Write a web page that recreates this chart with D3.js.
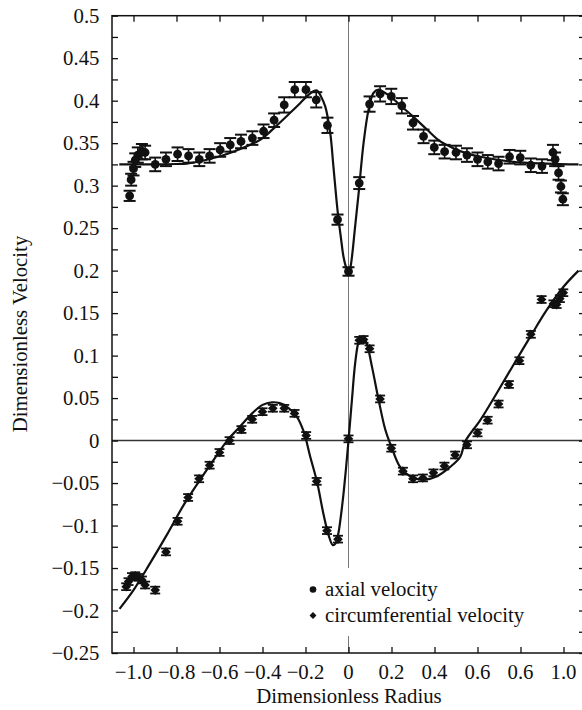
<!DOCTYPE html>
<html>
<head>
<meta charset="utf-8">
<script src="https://cdn.jsdelivr.net/npm/d3@7"></script>
</head>
<body style="margin:0;padding:0;background:#fff">
<svg id="chart" width="582" height="710" style="display:block"></svg>
<script>
// ---- data ----
const axialX = [-1.018,-1.011,-1.0,-0.992,-0.98,-0.961,-0.946,-0.899,-0.849,-0.795,-0.744,-0.694,-0.646,-0.597,-0.55,-0.5,-0.447,-0.395,-0.346,-0.299,-0.25,-0.198,-0.15,-0.098,-0.051,0.0,0.05,0.098,0.147,0.199,0.248,0.3,0.349,0.399,0.447,0.5,0.551,0.6,0.648,0.698,0.749,0.799,0.848,0.9,0.951,0.961,0.977,0.988,0.997];
const axialY = [0.288,0.307,0.320,0.330,0.336,0.340,0.339,0.325,0.331,0.337,0.335,0.331,0.335,0.342,0.348,0.352,0.356,0.364,0.377,0.395,0.413,0.413,0.401,0.371,0.260,0.199,0.303,0.396,0.408,0.405,0.394,0.374,0.358,0.345,0.340,0.339,0.336,0.331,0.328,0.326,0.334,0.333,0.324,0.323,0.339,0.331,0.315,0.299,0.284];
const axialErr = [0.006,0.007,0.008,0.008,0.009,0.009,0.008,0.008,0.008,0.008,0.008,0.008,0.008,0.008,0.008,0.008,0.008,0.008,0.008,0.009,0.009,0.009,0.009,0.009,0.006,0.005,0.007,0.009,0.009,0.009,0.009,0.008,0.008,0.008,0.008,0.008,0.008,0.008,0.008,0.008,0.008,0.008,0.008,0.008,0.009,0.008,0.008,0.007,0.007];

const circX = [-1.034,-1.023,-1.007,-0.992,-0.977,-0.961,-0.946,-0.899,-0.849,-0.795,-0.746,-0.695,-0.646,-0.6,-0.553,-0.498,-0.448,-0.4,-0.352,-0.299,-0.251,-0.197,-0.148,-0.1,-0.049,0.0,0.05,0.07,0.098,0.147,0.199,0.253,0.3,0.346,0.395,0.446,0.496,0.551,0.6,0.647,0.698,0.746,0.795,0.848,0.898,0.953,0.968,0.983,0.999];
const circY = [-0.172,-0.166,-0.160,-0.159,-0.161,-0.164,-0.170,-0.176,-0.131,-0.095,-0.067,-0.045,-0.029,-0.014,0.000,0.013,0.025,0.034,0.038,0.038,0.032,0.006,-0.048,-0.106,-0.116,0.002,0.118,0.119,0.108,0.049,-0.009,-0.036,-0.045,-0.044,-0.038,-0.030,-0.017,-0.005,0.009,0.024,0.043,0.066,0.094,0.125,0.166,0.161,0.160,0.167,0.174];
const circErr = [0.004,0.004,0.004,0.004,0.004,0.004,0.004,0.004,0.004,0.004,0.004,0.004,0.004,0.004,0.004,0.004,0.004,0.004,0.004,0.004,0.004,0.004,0.004,0.004,0.004,0.004,0.004,0.004,0.004,0.004,0.004,0.004,0.004,0.004,0.004,0.004,0.004,0.004,0.004,0.004,0.004,0.004,0.004,0.004,0.004,0.004,0.004,0.004,0.004];

const axialFitX = [-1.066,-0.9,-0.8,-0.752,-0.65,-0.535,-0.411,-0.333,-0.27,-0.225,-0.19,-0.163,-0.147,-0.128,-0.108,-0.085,-0.07,-0.051,-0.035,-0.023,-0.01,0.0,0.008,0.016,0.03,0.047,0.07,0.093,0.116,0.14,0.165,0.194,0.248,0.302,0.365,0.427,0.488,0.55,0.613,0.767,0.923,1.07];
const axialFitY = [0.325,0.325,0.3255,0.326,0.331,0.340,0.354,0.371,0.386,0.397,0.406,0.411,0.412,0.405,0.393,0.362,0.322,0.271,0.238,0.216,0.203,0.198,0.203,0.216,0.250,0.291,0.350,0.389,0.409,0.413,0.410,0.405,0.393,0.381,0.366,0.352,0.344,0.338,0.334,0.328,0.326,0.325];

const circFitX = [-1.065,-1.0,-0.922,-0.845,-0.767,-0.69,-0.612,-0.564,-0.51,-0.448,-0.4,-0.356,-0.32,-0.287,-0.24,-0.209,-0.178,-0.147,-0.116,-0.093,-0.073,-0.06,-0.047,-0.035,-0.023,-0.012,0.0,0.016,0.031,0.047,0.062,0.082,0.109,0.14,0.171,0.202,0.24,0.287,0.349,0.411,0.473,0.52,0.543,0.613,0.69,0.767,0.845,0.923,1.0,1.07];
const circFitY = [-0.198,-0.176,-0.144,-0.111,-0.076,-0.046,-0.017,0.0,0.015,0.032,0.042,0.045,0.044,0.040,0.028,0.011,-0.019,-0.048,-0.087,-0.111,-0.123,-0.121,-0.109,-0.088,-0.062,-0.034,0.0,0.048,0.091,0.116,0.122,0.116,0.087,0.048,0.013,-0.009,-0.031,-0.042,-0.046,-0.042,-0.031,-0.019,-0.001,0.024,0.056,0.089,0.122,0.154,0.181,0.200];

const xTickValues = [-1.0,-0.8,-0.6,-0.4,-0.2,0,0.2,0.4,0.6,0.8,1.0];
const xTickLabels = ["\u22121.0","\u22120.8","\u22120.6","\u22120.4","\u22120.2","0","0.2","0.4","0.6","0.6","1.0"];
const yTickValues = [-0.25,-0.2,-0.15,-0.1,-0.05,0,0.05,0.1,0.15,0.2,0.25,0.3,0.35,0.4,0.45,0.5];
const yTickLabels = ["\u22120.25","\u22120.2","\u22120.15","\u22120.1","\u22120.05","0","0.05","0.1","0.15","0.2","0.25","0.3","0.35","0.4","0.45","0.5"];
const yMinorValues = d3.range(-0.225, 0.5, 0.05).map(v => +v.toFixed(3));
const legendLabels = ["axial velocity", "circumferential velocity"];
const xTitle = "Dimensionless Radius";
const yTitle = "Dimensionless Velocity";

// ---- layout ----
const FONT = '"Liberation Serif", monospace';
const L = 112, R = 585, T = 15.7, B = 653;
const svg = d3.select("#chart");
const x = d3.scaleLinear().domain([-1.1, 1.1]).range([L, R]);
const y = d3.scaleLinear().domain([-0.25, 0.5]).range([B, T]);
const FS = 20.8;
const txt = sel => sel.style("font-family", FONT).style("font-size", FS + "px").style("fill", "#111");

// zero lines
svg.append("line").attr("x1", x(0)).attr("x2", x(0)).attr("y1", T).attr("y2", 568)
  .attr("stroke", "#777").attr("stroke-width", 1);
svg.append("line").attr("x1", x(0)).attr("x2", x(0)).attr("y1", 636).attr("y2", B)
  .attr("stroke", "#777").attr("stroke-width", 1);
svg.append("line").attr("x1", L).attr("x2", R).attr("y1", y(0)).attr("y2", y(0))
  .attr("stroke", "#333").attr("stroke-width", 1.5);

// axes with d3 axis generators
const tk = 6;
svg.append("g").attr("transform", `translate(0,${B})`)
  .call(d3.axisTop(x).tickValues(xTickValues).tickSize(tk).tickFormat(""))
  .call(g => g.select(".domain").remove());
svg.append("g").attr("transform", `translate(0,${T})`)
  .call(d3.axisBottom(x).tickValues(xTickValues).tickSize(tk).tickFormat(""))
  .call(g => g.select(".domain").remove());
svg.append("g").attr("transform", `translate(${L},0)`)
  .call(d3.axisRight(y).tickValues(yTickValues.concat(yMinorValues)).tickSize(tk).tickFormat(""))
  .call(g => g.select(".domain").remove());
svg.append("g").attr("transform", `translate(${R},0)`)
  .call(d3.axisLeft(y).tickValues(yTickValues.concat(yMinorValues)).tickSize(tk).tickFormat(""))
  .call(g => g.select(".domain").remove());
svg.selectAll(".tick line").attr("stroke", "#111").attr("stroke-width", 1.3);
svg.selectAll(".tick text").remove();

// frame
svg.append("rect").attr("x", L).attr("y", T).attr("width", R - L).attr("height", B - T)
  .attr("fill", "none").attr("stroke", "#111").attr("stroke-width", 1.5);

// tick labels
svg.append("g").selectAll("text").data(xTickValues).join("text")
  .attr("x", d => x(d)).attr("y", 679).attr("text-anchor", "middle")
  .call(txt).text((d, i) => xTickLabels[i]);
svg.append("g").selectAll("text").data(yTickValues).join("text")
  .attr("x", 99.5).attr("y", d => y(d) + 7).attr("text-anchor", "end")
  .call(txt).text((d, i) => yTickLabels[i]);

// titles
svg.append("text").attr("x", 349).attr("y", 703).attr("text-anchor", "middle")
  .call(txt).text(xTitle);
svg.append("text").attr("transform", `translate(27,334) rotate(-90)`).attr("text-anchor", "middle")
  .call(txt).text(yTitle);

// fit curves
const line = d3.line().x(d => x(d[0])).y(d => y(d[1])).curve(d3.curveCatmullRom.alpha(0.5));
svg.append("path").datum(axialFitX.map((v, i) => [v, axialFitY[i]]))
  .attr("d", line).attr("fill", "none").attr("stroke", "#111").attr("stroke-width", 2.2);
svg.append("path").datum(circFitX.map((v, i) => [v, circFitY[i]]))
  .attr("d", line).attr("fill", "none").attr("stroke", "#111").attr("stroke-width", 2.2);

// axial points with error bars
const ax = axialX.map((v, i) => ({ x: v, y: axialY[i], e: axialErr[i] }));
const gA = svg.append("g");
gA.selectAll("line.eb").data(ax).join("line")
  .attr("x1", d => x(d.x)).attr("x2", d => x(d.x))
  .attr("y1", d => y(d.y - d.e)).attr("y2", d => y(d.y + d.e))
  .attr("stroke", "#111").attr("stroke-width", 1.6);
gA.selectAll("line.ct").data(ax).join("line")
  .attr("x1", d => x(d.x) - 6).attr("x2", d => x(d.x) + 6)
  .attr("y1", d => y(d.y + d.e)).attr("y2", d => y(d.y + d.e))
  .attr("stroke", "#111").attr("stroke-width", 2);
gA.selectAll("line.cb").data(ax).join("line")
  .attr("x1", d => x(d.x) - 6).attr("x2", d => x(d.x) + 6)
  .attr("y1", d => y(d.y - d.e)).attr("y2", d => y(d.y - d.e))
  .attr("stroke", "#111").attr("stroke-width", 2);
gA.selectAll("circle").data(ax).join("circle")
  .attr("cx", d => x(d.x)).attr("cy", d => y(d.y)).attr("r", 4.4).attr("fill", "#111");

// circumferential points
const cx = circX.map((v, i) => ({ x: v, y: circY[i], e: circErr[i] }));
const gC = svg.append("g");
gC.selectAll("line.eb").data(cx).join("line")
  .attr("x1", d => x(d.x)).attr("x2", d => x(d.x))
  .attr("y1", d => y(d.y - d.e)).attr("y2", d => y(d.y + d.e))
  .attr("stroke", "#111").attr("stroke-width", 1.6);
gC.selectAll("line.ct").data(cx).join("line")
  .attr("x1", d => x(d.x) - 5).attr("x2", d => x(d.x) + 5)
  .attr("y1", d => y(d.y + d.e)).attr("y2", d => y(d.y + d.e))
  .attr("stroke", "#111").attr("stroke-width", 1.8);
gC.selectAll("line.cb").data(cx).join("line")
  .attr("x1", d => x(d.x) - 5).attr("x2", d => x(d.x) + 5)
  .attr("y1", d => y(d.y - d.e)).attr("y2", d => y(d.y - d.e))
  .attr("stroke", "#111").attr("stroke-width", 1.8);
const diamond = d3.symbol().type(d3.symbolSquare).size(46);
gC.selectAll("path").data(cx).join("path")
  .attr("transform", d => `translate(${x(d.x)},${y(d.y)}) rotate(45)`)
  .attr("d", diamond).attr("fill", "#111");

// legend
const lg = svg.append("g");
lg.append("circle").attr("cx", 313).attr("cy", 589.5).attr("r", 3.3).attr("fill", "#111");
lg.append("path").attr("transform", "translate(313,615.5) rotate(45)")
  .attr("d", d3.symbol().type(d3.symbolSquare).size(24)).attr("fill", "#111");
lg.selectAll("text").data(legendLabels).join("text")
  .attr("x", 325).attr("y", (d, i) => 596 + i * 26)
  .call(txt).text(d => d);
</script>
</body>
</html>
